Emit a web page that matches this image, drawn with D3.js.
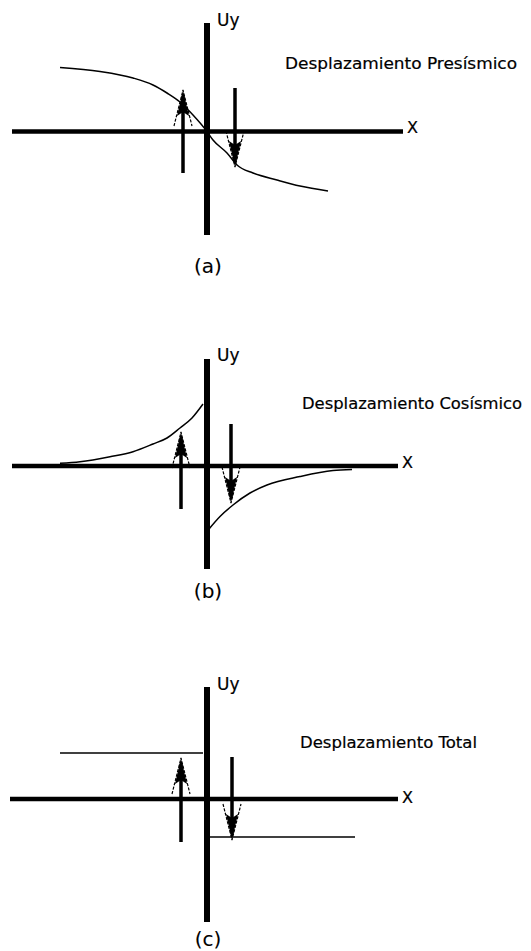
<!DOCTYPE html>
<html>
<head>
<meta charset="utf-8">
<script src="https://cdn.jsdelivr.net/npm/d3@7"></script>
<style>
  html, body { margin: 0; padding: 0; background: #fff; }
  svg { display: block; }
</style>
</head>
<body>
<script>
// ---- data: displacement profiles across the fault (x = distance, u = Uy) ----
const panelLabels = ["(a)", "(b)", "(c)"];
const panelTitles = ["Desplazamiento Presísmico", "Desplazamiento Cosísmico", "Desplazamiento Total"];

// (a) interseismic: smooth profile crossing the fault
const presismicoX = [-14.7, -10.7, -7.4, -5.4, -4.0, -2.7, -1.4, 0, 0.6, 2.0, 3.0, 4.6, 7.0, 9.3, 12.1];
const presismicoY = [6.4, 6.0, 5.35, 4.65, 3.85, 2.95, 1.65, 0, -0.85, -2.15, -3.35, -4.15, -4.85, -5.45, -5.95];

// (b) coseismic: two branches, one on each side of the fault
const cosismicoLeftX = [-14.7, -12.7, -9.7, -7.4, -5.4, -4.0, -2.7, -1.5, -0.4];
const cosismicoLeftY = [0.27, 0.43, 0.93, 1.43, 2.2, 2.8, 3.8, 4.8, 6.2];
const cosismicoRightX = [0.2, 1.3, 2.6, 4.3, 6.0, 9.3, 12.6, 14.5];
const cosismicoRightY = [-6.3, -5.05, -3.9, -2.7, -1.9, -1.05, -0.45, -0.35];

// (c) total: constant offset on each side
const totalLeftX = [-14.7, -0.4];
const totalLeftY = [4.6, 4.6];
const totalRightX = [0.2, 14.8];
const totalRightY = [-3.8, -3.8];

// relative motion arrows, one per panel
const arrowUpX = [-2.4, -2.6, -2.6];
const arrowUpFrom = [-4.15, -4.3, -4.3];
const arrowUpTo = [4.15, 3.4, 4.1];
const arrowDownX = [2.8, 2.4, 2.5];
const arrowDownFrom = [4.35, 4.2, 4.2];
const arrowDownTo = [-3.55, -3.7, -4.1];

// axis extents per panel
const xAxisLeft = [-19.5, -19.5, -19.7];
const xAxisRight = [19.6, 19.1, 19.1];
const yAxisTop = [10.85, 10.7, 11.2];
const yAxisBottom = [-10.35, -10.3, -12.3];

// ---- layout ----
const W = 531, H = 951;
const originY = [131.5, 466, 799];
const titleX = [7.8, 9.5, 9.3];
const titleDy = [-62.5, -57, -51];
const titleLen = [232, 220, 177];
const uyBase = [26, 361, 690];
const xLabelBase = [133, 468, 803];
const subLabelBase = [273, 598, 946];
const FONT = "'DejaVu Sans', Verdana, sans-serif";

const svg = d3.select("body").append("svg")
  .attr("width", W).attr("height", H)
  .attr("viewBox", `0 0 ${W} ${H}`);

const x = d3.scaleLinear().domain([-20, 20]).range([7, 407]);
const yScales = originY.map(o => d3.scaleLinear().domain([-10, 10]).range([o + 100, o - 100]));

const zip = (xs, ys) => xs.map((v, i) => [v, ys[i]]);
const series = [
  [{ pts: zip(presismicoX, presismicoY), curve: d3.curveMonotoneX }],
  [{ pts: zip(cosismicoLeftX, cosismicoLeftY), curve: d3.curveMonotoneX },
   { pts: zip(cosismicoRightX, cosismicoRightY), curve: d3.curveMonotoneX }],
  [{ pts: zip(totalLeftX, totalLeftY), curve: d3.curveLinear },
   { pts: zip(totalRightX, totalRightY), curve: d3.curveLinear }]
];

function arrow(g, px, y0, y1) {
  // shaft from y0 to the tip at y1, with a filled head and thin barbs
  const dir = y1 > y0 ? -1 : 1; // screen direction back from the tip
  g.append("line")
    .attr("x1", px).attr("x2", px)
    .attr("y1", y0).attr("y2", y1 + dir * 6)
    .attr("stroke", "#000").attr("stroke-width", 3.5);
  g.append("path")
    .attr("d", `M${px},${y1} L${px - 6},${y1 + dir * 26} L${px},${y1 + dir * 22} L${px + 6},${y1 + dir * 26} Z`)
    .attr("fill", "#000");
  g.append("path")
    .attr("d", `M${px - 9},${y1 + dir * 36} L${px},${y1} L${px + 9},${y1 + dir * 36}`)
    .attr("fill", "none").attr("stroke", "#000").attr("stroke-width", 1.2)
    .attr("stroke-dasharray", "3,1.5");
}

function label(g, px, py, txt, size) {
  return g.append("text")
    .attr("x", px).attr("y", py)
    .attr("font-family", FONT).attr("font-size", size)
    .attr("fill", "#000").attr("stroke", "#000").attr("stroke-width", 0.2)
    .text(txt);
}

panelLabels.forEach((lab, i) => {
  const y = yScales[i];
  const g = svg.append("g");

  // displacement curves
  const line = d3.line().x(d => x(d[0])).y(d => y(d[1]));
  series[i].forEach(s => {
    g.append("path")
      .attr("d", line.curve(s.curve)(s.pts))
      .attr("fill", "none").attr("stroke", "#000").attr("stroke-width", 1.5);
  });

  // X axis (horizontal) and fault / Uy axis (vertical)
  g.append("line")
    .attr("x1", x(xAxisLeft[i])).attr("x2", x(xAxisRight[i]))
    .attr("y1", y(0)).attr("y2", y(0))
    .attr("stroke", "#000").attr("stroke-width", 4.5);
  g.append("line")
    .attr("x1", x(0)).attr("x2", x(0))
    .attr("y1", y(yAxisTop[i])).attr("y2", y(yAxisBottom[i]))
    .attr("stroke", "#000").attr("stroke-width", 6);

  // motion arrows
  arrow(g, x(arrowUpX[i]), y(arrowUpFrom[i]), y(arrowUpTo[i]));
  arrow(g, x(arrowDownX[i]), y(arrowDownFrom[i]), y(arrowDownTo[i]));

  // labels
  label(g, x(0) + 10, uyBase[i], "Uy", 17);
  label(g, x(xAxisRight[i]) + 4, xLabelBase[i], "X", 16);
  label(g, x(titleX[i]), y(0) + titleDy[i], panelTitles[i], 16)
    .attr("textLength", titleLen[i]).attr("lengthAdjust", "spacingAndGlyphs");
  label(g, x(0) + 1, subLabelBase[i], lab, 20)
    .attr("text-anchor", "middle").attr("stroke-width", 0.1);
});
</script>
</body>
</html>
